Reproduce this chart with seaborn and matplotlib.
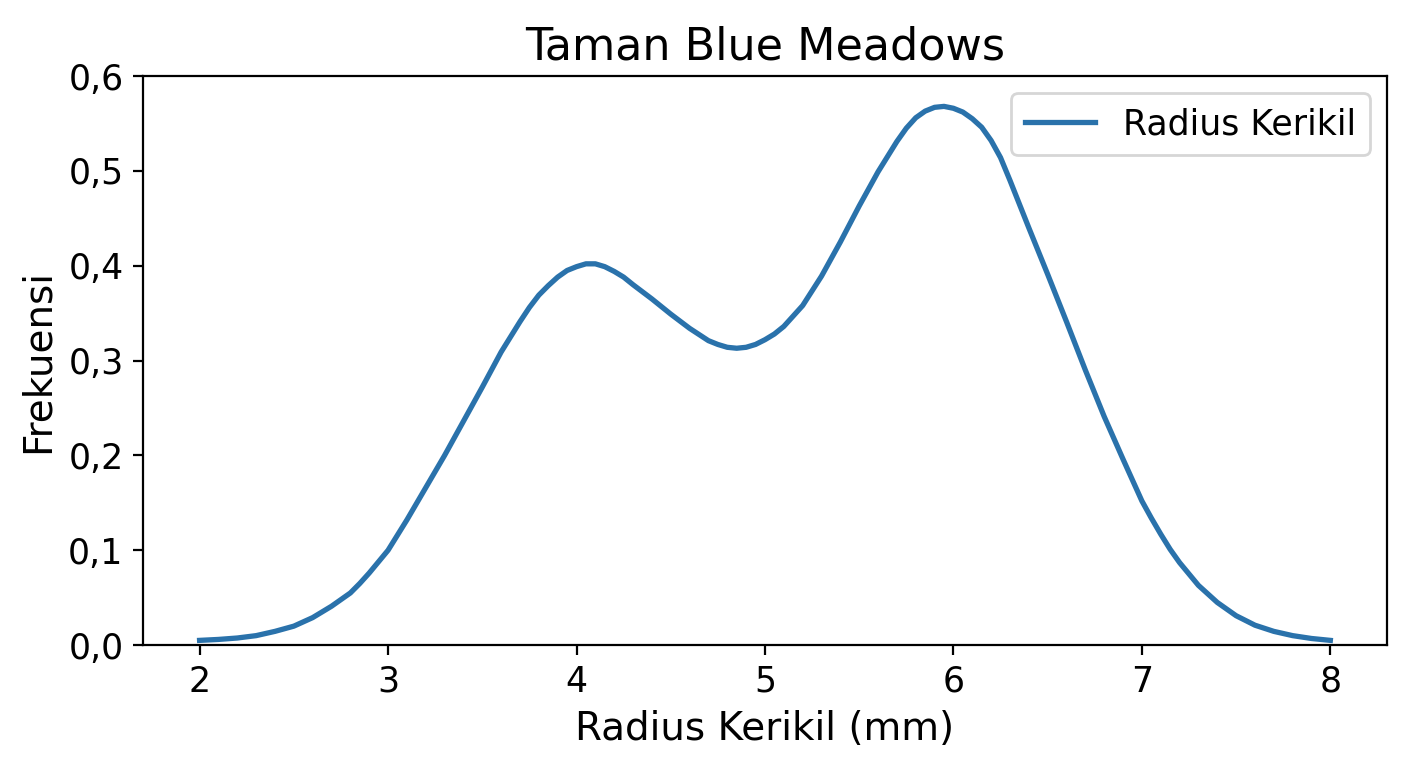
import pandas as pd
import matplotlib
matplotlib.use("Agg")
import matplotlib.pyplot as plt
import seaborn as sns
from matplotlib.ticker import FuncFormatter

# values
radius = [2.0, 2.1, 2.2, 2.3, 2.4, 2.5, 2.6, 2.7, 2.8, 2.85, 2.9, 2.95,
          3.0, 3.1, 3.2, 3.3, 3.4, 3.5, 3.6, 3.7, 3.75, 3.8, 3.85, 3.9, 3.95,
          4.0, 4.05, 4.1, 4.15, 4.2, 4.25, 4.3, 4.4, 4.5, 4.6, 4.7, 4.75, 4.8, 4.85, 4.9, 4.95,
          5.0, 5.05, 5.1, 5.2, 5.3, 5.4, 5.5, 5.6, 5.7, 5.75, 5.8, 5.85, 5.9, 5.95,
          6.0, 6.05, 6.1, 6.15, 6.2, 6.25, 6.3, 6.4, 6.5, 6.6, 6.7, 6.8, 6.9, 6.95,
          7.0, 7.05, 7.1, 7.15, 7.2, 7.3, 7.4, 7.5, 7.6, 7.7, 7.8, 7.9, 8.0]
frekuensi = [0.005, 0.006, 0.0075, 0.010, 0.0145, 0.020, 0.029, 0.041, 0.055, 0.065, 0.076, 0.088,
             0.100, 0.132, 0.166, 0.200, 0.236, 0.272, 0.309, 0.341, 0.356, 0.369, 0.379, 0.388, 0.395,
             0.399, 0.402, 0.402, 0.399, 0.394, 0.388, 0.380, 0.365, 0.349, 0.334, 0.321, 0.317, 0.314, 0.313, 0.314, 0.317,
             0.322, 0.328, 0.336, 0.358, 0.389, 0.425, 0.463, 0.499, 0.531, 0.545, 0.556, 0.563, 0.567, 0.568,
             0.566, 0.562, 0.555, 0.546, 0.532, 0.514, 0.490, 0.440, 0.391, 0.341, 0.290, 0.241, 0.196, 0.174,
             0.152, 0.134, 0.117, 0.101, 0.087, 0.063, 0.045, 0.031, 0.021, 0.0145, 0.010, 0.007, 0.005]

df = pd.DataFrame({"radius": radius, "frekuensi": frekuensi})

plt.rcParams['font.family'] = ['DejaVu Sans']

fig, ax = plt.subplots(figsize=(7.04, 3.84), dpi=200)
sns.lineplot(data=df, x="radius", y="frekuensi", color="#2a72ab", linewidth=1.9,
             label="Radius Kerikil", ax=ax)

ax.set_title("Taman Blue Meadows", fontsize=16)
ax.set_xlabel("Radius Kerikil (mm)", fontsize=14)
ax.set_ylabel("Frekuensi", fontsize=14)
ax.set_ylim(0, 0.6)
ax.set_xticks([2, 3, 4, 5, 6, 7, 8])
ax.set_yticks([0, 0.1, 0.2, 0.3, 0.4, 0.5, 0.6])
ax.yaxis.set_major_formatter(FuncFormatter(lambda v, p: f"{v:.1f}".replace(".", ",")))
ax.tick_params(labelsize=12.5)
ax.legend(loc="upper right", fontsize=12.5)

fig.subplots_adjust(left=0.1016, right=0.985, top=0.901, bottom=0.160)
fig.savefig("out.png", dpi=200)
